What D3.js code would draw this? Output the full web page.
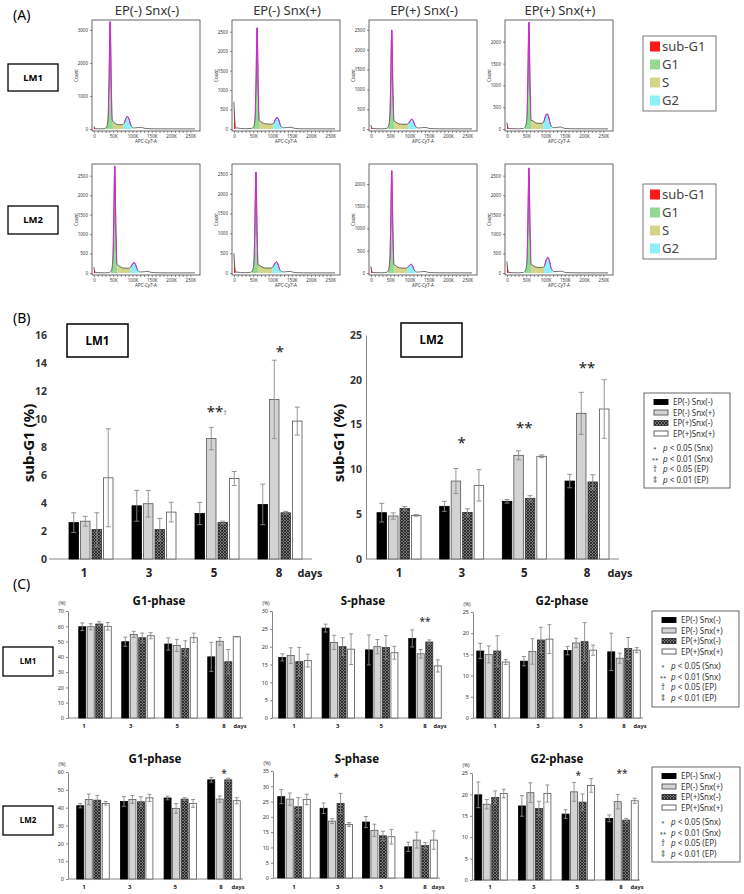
<!DOCTYPE html>
<html lang="en">
<head>
<meta charset="UTF-8">
<title>Cell cycle analysis LM1 / LM2</title>
<script src="https://d3js.org/d3.v7.min.js"></script>
<style>
  body { margin: 0; background: #fff; }
  svg { display: block; font-family: "Noto Sans", "DejaVu Sans", sans-serif; }
</style>
</head>
<body>
<svg width="744" height="894"></svg>
<script>
// ---------- data ----------
const days = ["1", "3", "5", "8"];
const groups = ["EP(-) Snx(-)", "EP(-) Snx(+)", "EP(+)Snx(-)", "EP(+)Snx(+)"];
const pNotes = [["*", "< 0.05 (Snx)"], ["**", "< 0.01 (Snx)"], ["\u2020", "< 0.05 (EP)"], ["\u2021", "< 0.01 (EP)"]];

// (A) flow cytometry histograms: [APC-Cy7-A (K), count]
const histTitles = ["EP(-) Snx(-)", "EP(-) Snx(+)", "EP(+) Snx(-)", "EP(+) Snx(+)"];
const phases = ["sub-G1", "G1", "S", "G2"];
const histPeaks = [[42, 87], [60, 112], [54, 106], [57, 104], [54, 104], [57, 110], [54, 104], [57, 106]];
const histMax = [3300, 2800, 2750, 2500, 2800, 2750, 2450, 2800];
const histStep = [1000, 500, 500, 500, 500, 500, 500, 500];
const histCurves = [
  [[0,80],[2,30],[5,8],[20,5],[28,15],[33,60],[36,260],[39,1360],[42,3250],[45,1360],[48,260],[52,200],[58,150],[66,130],[73,130],[78,170],[83,320],[87,380],[91,300],[96,115],[103,30],[115,45],[123,50],[133,15],[157,5],[262,3]],
  [[0,700],[2,250],[5,30],[30,8],[46,15],[51,60],[54,210],[57,1090],[60,2600],[63,1090],[66,210],[70,190],[76,150],[86,130],[98,125],[103,150],[108,255],[112,300],[116,240],[121,90],[128,30],[140,40],[148,45],[158,15],[182,5],[262,3]],
  [[0,100],[2,35],[5,10],[28,5],[40,15],[45,55],[48,200],[51,1050],[54,2500],[57,1050],[60,200],[64,180],[70,140],[80,120],[92,120],[97,140],[102,210],[106,250],[110,200],[115,75],[122,25],[134,35],[142,40],[152,12],[176,5],[262,3]],
  [[0,150],[2,50],[5,10],[30,5],[43,15],[48,60],[51,195],[54,1030],[57,2450],[60,1030],[63,195],[67,190],[73,150],[82,130],[90,130],[95,160],[100,300],[104,350],[108,280],[113,105],[120,30],[132,40],[140,45],[150,12],[174,5],[262,3]],
  [[0,150],[2,50],[5,10],[28,5],[40,15],[45,60],[48,220],[51,1150],[54,2750],[57,1150],[60,220],[64,190],[70,150],[80,125],[90,125],[95,150],[100,230],[104,270],[108,215],[113,80],[120,25],[132,35],[140,40],[150,12],[174,5],[262,3]],
  [[0,500],[2,170],[5,25],[30,8],[43,15],[48,60],[51,205],[54,1070],[57,2550],[60,1070],[63,205],[67,190],[73,150],[84,125],[96,125],[101,150],[106,240],[110,280],[114,225],[119,85],[126,25],[138,35],[146,40],[156,12],[180,5],[262,3]],
  [[0,150],[2,50],[5,10],[28,5],[40,15],[45,55],[48,185],[51,965],[54,2300],[57,965],[60,185],[64,170],[70,130],[80,110],[90,110],[95,130],[100,170],[104,200],[108,160],[113,60],[120,20],[132,30],[140,35],[150,10],[174,5],[262,3]],
  [[0,300],[2,100],[5,15],[30,5],[43,15],[48,65],[51,215],[54,1130],[57,2700],[60,1130],[63,215],[67,200],[73,160],[84,140],[92,140],[97,180],[102,340],[106,400],[110,320],[115,120],[122,35],[134,40],[142,45],[152,12],[176,5],[262,3]]
];

// (B) sub-G1 (%), rows = days, columns = groups
const subG1LM1 = [[2.6,2.7,2.1,5.8],[3.8,3.95,2.1,3.35],[3.25,8.6,2.6,5.75],[3.9,11.4,3.3,9.85]];
const subG1LM1Err = [[0.7,0.35,1.2,3.5],[1.1,0.95,0.8,0.7],[0.8,0.8,0.1,0.5],[1.45,2.8,0.1,1.0]];
const subG1LM1Marks = [["5","**\u2020",10.7],["8","*",15]];
const subG1LM2 = [[5.17,4.8,5.65,4.87],[5.88,8.7,5.2,8.22],[6.44,11.57,6.77,11.46],[8.7,16.26,8.6,16.74]];
const subG1LM2Err = [[1.04,0.35,0.2,0.1],[0.56,1.4,0.4,1.75],[0.2,0.5,0.3,0.15],[0.75,2.34,0.8,3.27]];
const subG1LM2Marks = [["3","*",13.3],["5","**",15],["8","**",21.7]];

// (C) cell cycle phases (%)
const g1LM1 = [[59.7,59.7,61.5,60],[49.9,54.7,52.5,53.8],[48.4,47.5,45.5,52.5],[40,50.2,36.8,53.2]];
const g1LM1Err = [[2.5,2,1.5,2.5],[3,2,3,2],[4,4,5,3],[9.5,2.5,8,0.2]];
const sLM1 = [[17,17.5,15.8,16.1],[25.2,21.2,20,19.3],[19.1,20,19.8,18.3],[22.3,18,21.3,14.6]];
const sLM1Err = [[1,2.2,4,1.8],[1.1,2,2.5,4.3],[4.2,2,3.3,1.8],[2.4,1.2,0.6,1.7]];
const sLM1Marks = [["8","**",27.5]];
const g2LM1 = [[15.8,15,15.8,13.2],[13.4,15.7,18.4,18.6],[15.9,17.7,18,16],[15.6,14.1,16.4,16]];
const g2LM1Err = [[1.8,2,3.6,0.6],[1.1,3,3,3.4],[1,1.1,4.5,1.2],[4.4,1.2,2.6,0.6]];
const g1LM2 = [[41.1,44.6,44.2,42.4],[43.5,44.6,43.3,45.5],[45.4,39.6,44.8,42.4],[55.6,44.8,55.6,43.9]];
const g1LM2Err = [[1.2,3,2.7,1],[2.7,2.2,2.8,2],[1,2.7,0.8,2.2],[1.3,1.8,0.9,1.7]];
const g1LM2Marks = [["8","*",60]];
const sLM2 = [[26.6,25.8,23.3,25.7],[22.8,18.6,24.4,17.5],[18.3,15.6,13.8,13.5],[10.2,12.4,10.6,12.4]];
const sLM2Err = [[2.3,2,3,1.7],[1.7,0.8,3.3,0.6],[1.8,2,1.5,2.4],[1.5,2.6,1,3]];
const sLM2Marks = [["3","*",33.4]];
const g2LM2 = [[19.9,17.7,19.3,20.2],[17.3,20.4,16.7,20.2],[15.4,20.6,18.2,22.1],[14.4,18.3,14,18.5]];
const g2LM2Err = [[3,1.1,1.5,1],[2.4,2.3,1.7,2],[1,2.2,1.9,1.6],[0.8,1.7,0.4,0.6]];
const g2LM2Marks = [["5","*",24.9],["8","**",25.3]];

// ---------- styles ----------
const phaseColors = ["#ff1a1a", "#93d893", "#d5d58a", "#8ef0f6"];
const groupFill = ["#000", "#d3d3d3", "url(#hatch)", "#fff"];
const groupStroke = ["#000", "#555", "#333", "#555"];

const svg = d3.select("svg");
const defs = svg.append("defs");
const pat = defs.append("pattern").attr("id", "hatch")
  .attr("width", 3).attr("height", 3).attr("patternUnits", "userSpaceOnUse");
pat.append("rect").attr("width", 3).attr("height", 3).attr("fill", "#7a7a7a");
pat.append("path").attr("d", "M0,0L3,3M3,0L0,3").attr("stroke", "#1a1a1a").attr("stroke-width", 0.8);

function label(x, y, txt, size, opts = {}) {
  return svg.append("text").attr("x", x).attr("y", y)
    .attr("font-size", size)
    .attr("font-weight", opts.weight || "normal")
    .attr("text-anchor", opts.anchor || "start")
    .attr("fill", opts.fill || "#000")
    .text(txt);
}

function box(x, y, w, h, txt, size, sw) {
  svg.append("rect").attr("x", x).attr("y", y).attr("width", w).attr("height", h)
    .attr("fill", "#fff").attr("stroke", "#000").attr("stroke-width", sw);
  label(x + w / 2, y + h / 2 + size * 0.36, txt, size, { weight: "bold", anchor: "middle" });
}

// ---------- (A) ----------
label(13, 20, "(A)", 14);
const histLeft = [92, 232, 369, 505];
const histTop = [20, 164];

histTitles.forEach((t, c) => label(histLeft[c] + 55, 15, t, 13, { anchor: "middle", fill: "#333" }));

function histogram(i) {
  const r = Math.floor(i / 4), c = i % 4;
  const x0 = histLeft[c], top = histTop[r], bot = top + 111;
  const x = d3.scaleLinear().domain([-5, 275]).range([x0, x0 + 108]);
  const y = d3.scaleLinear().domain([0, histMax[i]]).range([bot - 2, top]);
  const pts = histCurves[i];
  const [p1, p2] = histPeaks[i];
  const g = svg.append("g");

  const area = d3.area().x(d => x(d[0])).y0(y(0)).y1(d => y(d[1])).curve(d3.curveMonotoneX);
  const line = d3.line().x(d => x(d[0])).y(d => y(d[1])).curve(d3.curveMonotoneX);
  const gates = [[-5, 4], [p1 - 10, p1 + 7], [p1 + 7, p2 - 10], [p2 - 10, p2 + 12]];

  gates.forEach(([a, b], k) => {
    const id = `clip${i}_${k}`;
    defs.append("clipPath").attr("id", id).append("rect")
      .attr("x", x(a)).attr("y", top).attr("width", x(b) - x(a)).attr("height", bot - top);
    g.append("path").datum(pts).attr("d", area).attr("fill", phaseColors[k]).attr("clip-path", `url(#${id})`);
  });

  g.append("path").datum(pts).attr("d", line).attr("fill", "none").attr("stroke", "#333").attr("stroke-width", 0.7);
  const mid = `fit${i}`;
  const cp = defs.append("clipPath").attr("id", mid);
  [[p1 - 5, p1 + 5], [p2 - 9, p2 + 9]].forEach(([a, b]) =>
    cp.append("rect").attr("x", x(a)).attr("y", top).attr("width", x(b) - x(a)).attr("height", bot - top));
  g.append("path").datum(pts).attr("d", line).attr("fill", "none")
    .attr("stroke", "#e020e0").attr("stroke-width", 1).attr("clip-path", `url(#${mid})`);

  g.append("rect").attr("x", x0).attr("y", top).attr("width", 108).attr("height", bot - top)
    .attr("fill", "none").attr("stroke", "#444").attr("stroke-width", 0.8);

  const ax = g.append("g").attr("transform", `translate(0,${bot})`)
    .call(d3.axisBottom(x).tickValues(d3.range(0, 260, 10)).tickSize(2).tickPadding(1.5)
      .tickFormat(d => d % 50 ? "" : d ? d + "K" : "0"));
  const ay = g.append("g").attr("transform", `translate(${x0},0)`)
    .call(d3.axisLeft(y).tickValues(d3.range(0, histMax[i], histStep[i])).tickSize(2).tickPadding(2)
      .tickFormat(d3.format("d")));
  [ax, ay].forEach(a => {
    a.select(".domain").remove();
    a.selectAll("line").attr("stroke", "#444").attr("stroke-width", 0.6);
    a.selectAll("text").attr("font-size", 4.5).attr("fill", "#333").attr("font-family", "Noto Sans");
  });
  g.append("text").attr("transform", `translate(${x0 - 14},${(top + bot) / 2}) rotate(-90)`)
    .attr("text-anchor", "middle").attr("font-size", 4.5).attr("fill", "#333").text("Count");
  g.append("text").attr("x", x0 + 54).attr("y", bot + 12).attr("text-anchor", "middle")
    .attr("font-size", 4.5).attr("fill", "#333").text("APC-Cy7-A");
}
d3.range(8).forEach(histogram);

box(8, 64, 50, 27, "LM1", 9.5, 1.3);
box(8, 206, 50, 28, "LM2", 9.5, 1.3);

function phaseLegend(x, y) {
  svg.append("rect").attr("x", x).attr("y", y).attr("width", 73).attr("height", 75)
    .attr("fill", "#fff").attr("stroke", "#555").attr("stroke-width", 0.8);
  phases.forEach((p, k) => {
    const cy = y + 10.5 + k * 18;
    svg.append("rect").attr("x", x + 7).attr("y", cy - 5).attr("width", 10).attr("height", 10).attr("fill", phaseColors[k]);
    label(x + 19, cy + 4.5, p, 13, { fill: "#444" });
  });
}
phaseLegend(643, 36);
phaseLegend(643, 184);

// ---------- bar charts ----------
function barChart(o) {
  const xc = d3.scalePoint().domain(days).range(o.centers);
  const xl = d3.scalePoint().domain(days).range(o.labels);
  const y = d3.scaleLinear().domain([0, o.max]).range([o.base, o.top]);
  const gw = 4 * o.bw + 3 * o.gap;
  const inner = d3.scaleBand().domain(d3.range(4)).range([-gw / 2, gw / 2])
    .paddingInner(o.gap / (o.bw + o.gap));
  const g = svg.append("g");

  const ay = g.append("g").attr("transform", `translate(${o.axis[0]},0)`)
    .call(d3.axisLeft(y).tickValues(d3.range(0, o.max + o.step / 2, o.step))
      .tickSize(o.tick).tickSizeOuter(0).tickPadding(o.pad));
  ay.select(".domain").attr("stroke", o.yLine ? "#888" : "none");
  ay.selectAll("line").attr("stroke", "#888");
  ay.selectAll("text").attr("font-size", o.tickFont).attr("font-weight", o.tickWeight)
    .attr("fill", "#333").attr("font-family", "Noto Sans");

  g.append("line").attr("x1", o.axis[0]).attr("x2", o.axis[1])
    .attr("y1", y(0)).attr("y2", y(0)).attr("stroke", "#888").attr("stroke-width", 1);

  const cells = days.flatMap((d, i) => groups.map((s, k) => ({ d, k, v: o.values[i][k], e: o.errs[i][k] })));

  g.selectAll("rect.bar").data(cells).join("rect").attr("class", "bar")
    .attr("x", c => xc(c.d) + inner(c.k))
    .attr("y", c => y(c.v))
    .attr("width", inner.bandwidth())
    .attr("height", c => y(0) - y(c.v))
    .attr("fill", c => groupFill[c.k])
    .attr("stroke", c => groupStroke[c.k])
    .attr("stroke-width", 0.8);

  g.selectAll("path.err").data(cells).join("path").attr("class", "err")
    .attr("d", c => {
      const cx = xc(c.d) + inner(c.k) + inner.bandwidth() / 2;
      const hi = y(c.v + c.e), lo = y(c.v - c.e);
      return `M${cx},${hi}V${lo}M${cx - o.cap},${hi}h${2 * o.cap}M${cx - o.cap},${lo}h${2 * o.cap}`;
    })
    .attr("fill", "none").attr("stroke", "#8a8a8a").attr("stroke-width", 0.9);

  g.selectAll("text.cat").data(days).join("text").attr("class", "cat")
    .attr("x", d => xl(d)).attr("y", o.catY).attr("text-anchor", "middle")
    .attr("font-size", o.catFont).attr("font-weight", "bold").attr("fill", "#222").text(d => d);
  g.append("text").attr("x", o.daysX).attr("y", o.catY).attr("text-anchor", "middle")
    .attr("font-size", o.catFont * 0.95).attr("font-weight", "bold").attr("fill", "#222").text("days");

  (o.marks || []).forEach(([d, t, v]) => {
    const tx = g.append("text").attr("x", xc(d)).attr("y", y(v) + o.markFont * 0.54)
      .attr("text-anchor", "middle").attr("font-size", o.markFont).attr("fill", "#222");
    const stars = t.replace(/[\u2020\u2021]/g, "");
    tx.append("tspan").text(stars);
    if (stars !== t) tx.append("tspan").attr("font-size", o.markFont * 0.5).attr("fill", "#777").attr("dy", -2).text(t.slice(stars.length));
  });

  if (o.title) {
    g.append("text").attr("x", o.title[1]).attr("y", o.title[2]).attr("text-anchor", "middle")
      .attr("font-size", 11.5).attr("font-weight", "bold").attr("fill", "#111").text(o.title[0]);
    g.append("text").attr("x", o.axis[0] - 6).attr("y", o.top - 6).attr("text-anchor", "middle")
      .attr("font-size", 5).attr("fill", "#333").text("(%)");
  }
}

function groupLegend(x, y, w, h) {
  svg.append("rect").attr("x", x).attr("y", y).attr("width", w).attr("height", h)
    .attr("fill", "#fff").attr("stroke", "#555").attr("stroke-width", 0.9);
  groups.forEach((s, k) => {
    const cy = y + 9 + k * 10.5;
    svg.append("rect").attr("x", x + 10).attr("y", cy - 2.5).attr("width", 14).attr("height", 5)
      .attr("fill", groupFill[k]).attr("stroke", groupStroke[k]).attr("stroke-width", 0.9);
    label(x + 29, cy + 3, s, 8, { fill: "#333" });
  });
  pNotes.forEach(([sym, txt], k) => {
    const cy = y + 55 + k * 10.5;
    label(x + 11, cy + 3, sym, k < 2 ? 6 : 8, { anchor: "middle", fill: "#333" });
    const t = svg.append("text").attr("x", x + 19).attr("y", cy + 3).attr("font-size", 8).attr("fill", "#333");
    t.append("tspan").attr("font-style", "italic").text("p");
    t.append("tspan").text(" " + txt);
  });
}

// ---------- (B) ----------
label(13, 323, "(B)", 14);
const bStyle = { bw: 9.5, gap: 2, tick: 0, tickFont: 10.5, tickWeight: "bold", catFont: 11.5, catY: 577, cap: 2.5, markFont: 15 };
barChart({ ...bStyle, values: subG1LM1, errs: subG1LM1Err, marks: subG1LM1Marks,
  axis: [49, 312], base: 559, top: 335, max: 16, step: 2, centers: [91, 280], labels: [84, 279],
  yLine: false, pad: 2, daysX: 310 });
barChart({ ...bStyle, values: subG1LM2, errs: subG1LM2Err, marks: subG1LM2Marks,
  axis: [366, 619], base: 559, top: 335, max: 25, step: 5, centers: [399, 587], labels: [399, 587],
  yLine: true, pad: 4, daysX: 620 });
[[29, "sub-G1 (%)"], [339, "sub-G1 (%)"]].forEach(([x, t]) =>
  svg.append("text").attr("transform", `translate(${x + 5},443) rotate(-90)`).attr("text-anchor", "middle")
    .attr("font-size", 15).attr("font-weight", "bold").attr("fill", "#111").text(t));
box(67, 324, 61, 33, "LM1", 11.5, 1.5);
box(401, 323, 61, 34, "LM2", 11.5, 1.5);
groupLegend(644, 393, 86, 95);

// ---------- (C) ----------
label(13, 589, "(C)", 14);
const cStyle = { bw: 7, gap: 1.5, tick: 2, pad: 2, tickFont: 5.5, tickWeight: "normal", catFont: 6, cap: 2, markFont: 10, yLine: true };
barChart({ ...cStyle, values: g1LM1, errs: g1LM1Err, axis: [68, 243], base: 718, top: 611, max: 70, step: 10,
  centers: [95, 224], labels: [84, 224], catY: 728, daysX: 240, title: ["G1-phase", 159, 605] });
barChart({ ...cStyle, values: sLM1, errs: sLM1Err, marks: sLM1Marks, axis: [272, 442], base: 718, top: 611, max: 30, step: 5,
  centers: [295, 425], labels: [294, 425], catY: 728, daysX: 440, title: ["S-phase", 363, 605] });
barChart({ ...cStyle, values: g2LM1, errs: g2LM1Err, axis: [473, 643], base: 718, top: 612, max: 25, step: 5,
  centers: [493, 624], labels: [495, 624], catY: 728, daysX: 640, title: ["G2-phase", 562, 605] });
barChart({ ...cStyle, values: g1LM2, errs: g1LM2Err, marks: g1LM2Marks, axis: [68, 243], base: 879, top: 772, max: 60, step: 10,
  centers: [93, 224], labels: [84, 221], catY: 889, daysX: 238, title: ["G1-phase", 155, 763] });
barChart({ ...cStyle, values: sLM2, errs: sLM2Err, marks: sLM2Marks, axis: [273, 440], base: 878, top: 771, max: 35, step: 5,
  centers: [294, 421], labels: [294, 425], catY: 889, daysX: 438, title: ["S-phase", 357, 763] });
barChart({ ...cStyle, values: g2LM2, errs: g2LM2Err, marks: g2LM2Marks, axis: [472, 640], base: 880, top: 773, max: 25, step: 5,
  centers: [491, 622], labels: [490, 621], catY: 889, daysX: 637, title: ["G2-phase", 557, 763] });
box(3, 647, 50, 29, "LM1", 8, 1.3);
box(3, 806, 50, 29, "LM2", 8, 1.3);
groupLegend(652, 611, 87, 96);
groupLegend(652, 767, 88, 95);
</script>
</body>
</html>
